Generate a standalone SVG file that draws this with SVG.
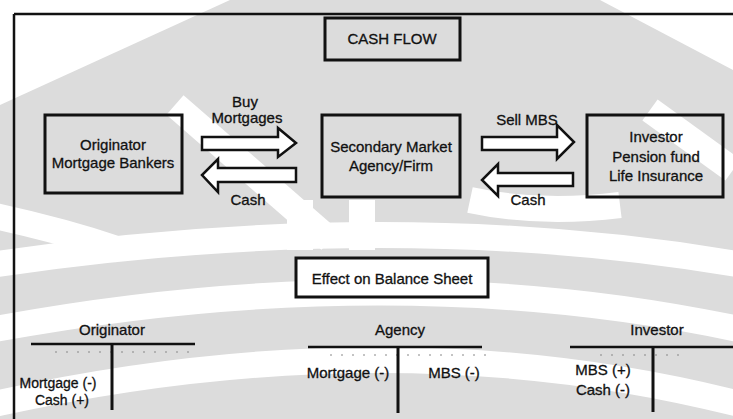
<svg xmlns="http://www.w3.org/2000/svg" width="733" height="419" viewBox="0 0 733 419">
<style>
.box{fill:none;stroke:#111;stroke-width:3}
.arr{fill:#fff;stroke:#111;stroke-width:2.5;stroke-linejoin:miter}
.ln{stroke:#111;stroke-width:2.5;fill:none}
.tl{stroke:#111;stroke-width:3;fill:none}
.dot{stroke:#888;stroke-width:1;stroke-dasharray:2 9;fill:none}
.wb{fill:none;stroke:#fff;stroke-width:26}
text{font-family:"Liberation Sans",Arial,sans-serif;font-size:15px;fill:#111;text-anchor:middle;stroke:#111;stroke-width:0.3}
.sm{font-size:14px}
</style>
<rect width="733" height="419" fill="#dcdcdc"/>
<g id="watermark">
<path d="M0,0 H230 L0,105 Z" fill="#fff"/>
<path d="M600,0 H733 V70 Z" fill="#fff"/>
<path class="wb" d="M175,105 L330,240"/>
<path class="wb" d="M300,200 V250"/>
<path class="wb" d="M362,200 V250"/>
<path class="wb" d="M470,200 Q540,215 620,205"/>
<path class="wb" d="M650,110 L733,170"/>
<path class="wb" d="M-10,215 Q60,230 120,250"/>
<path class="wb" d="M-10,265 Q392,205 743,265"/>
<path class="wb" d="M-10,330 Q392,255 743,330"/>
<path class="wb" d="M-10,405 Q392,315 743,405"/>
<rect x="296" y="258" width="192" height="39" fill="#fff"/>
</g>
<g id="frame">
<line class="ln" x1="14" y1="14" x2="733" y2="14"/>
<line class="ln" x1="14" y1="14" x2="14" y2="419"/>
</g>
<g id="cashflow">
<rect class="box" x="325" y="18" width="135" height="42"/>
<text x="392" y="44">CASH FLOW</text>
</g>
<g id="originator">
<rect class="box" x="45" y="115" width="137" height="78"/>
<text x="113" y="150">Originator</text>
<text x="113" y="168">Mortgage Bankers</text>
</g>
<g id="secondary">
<rect class="box" x="322" y="115" width="138" height="82"/>
<text x="391" y="152">Secondary Market</text>
<text x="391" y="171">Agency/Firm</text>
</g>
<g id="investor">
<rect class="box" x="587" y="115" width="136" height="82"/>
<text x="656" y="142">Investor</text>
<text x="656" y="162">Pension fund</text>
<text x="656" y="181">Life Insurance</text>
</g>
<g id="connectors">
<path class="arr" d="M202,137 H278 V128 L296,143 L278,157 V150 H202 Z"/>
<path class="arr" d="M296,168 H218 V159 L202,175 L218,192 V182 H296 Z"/>
<path class="arr" d="M482,137 H557 V125 L574,142 L557,159 V150 H482 Z"/>
<path class="arr" d="M573,173 H498 V164 L482,180 L498,196 V186 H573 Z"/>
<text x="245" y="107">Buy</text>
<text x="247" y="123">Mortgages</text>
<text x="248" y="205">Cash</text>
<text x="527" y="125">Sell MBS</text>
<text x="528" y="205">Cash</text>
</g>
<g id="effect">
<rect class="box" x="296" y="258" width="192" height="39"/>
<text x="392" y="284">Effect on Balance Sheet</text>
</g>
<g id="t-originator">
<text x="112" y="335">Originator</text>
<line class="ln" x1="31" y1="344" x2="195" y2="344"/>
<line class="dot" x1="55" y1="352" x2="195" y2="352"/>
<line class="tl" x1="112" y1="344" x2="112" y2="410"/>
<text class="sm" x="58" y="388">Mortgage (-)</text>
<text class="sm" x="62" y="405">Cash (+)</text>
</g>
<g id="t-agency">
<text x="400" y="335">Agency</text>
<line class="ln" x1="308" y1="347" x2="482" y2="347"/>
<line class="dot" x1="330" y1="355" x2="490" y2="355"/>
<line class="tl" x1="398" y1="347" x2="398" y2="413"/>
<text x="348" y="378">Mortgage (-)</text>
<text x="454" y="378">MBS (-)</text>
</g>
<g id="t-investor">
<text x="657" y="335">Investor</text>
<line class="ln" x1="570" y1="347" x2="733" y2="347"/>
<line class="dot" x1="600" y1="355" x2="680" y2="355"/>
<line class="tl" x1="653" y1="347" x2="653" y2="412"/>
<text x="603" y="375">MBS (+)</text>
<text x="603" y="395">Cash (-)</text>
</g>
</svg>
